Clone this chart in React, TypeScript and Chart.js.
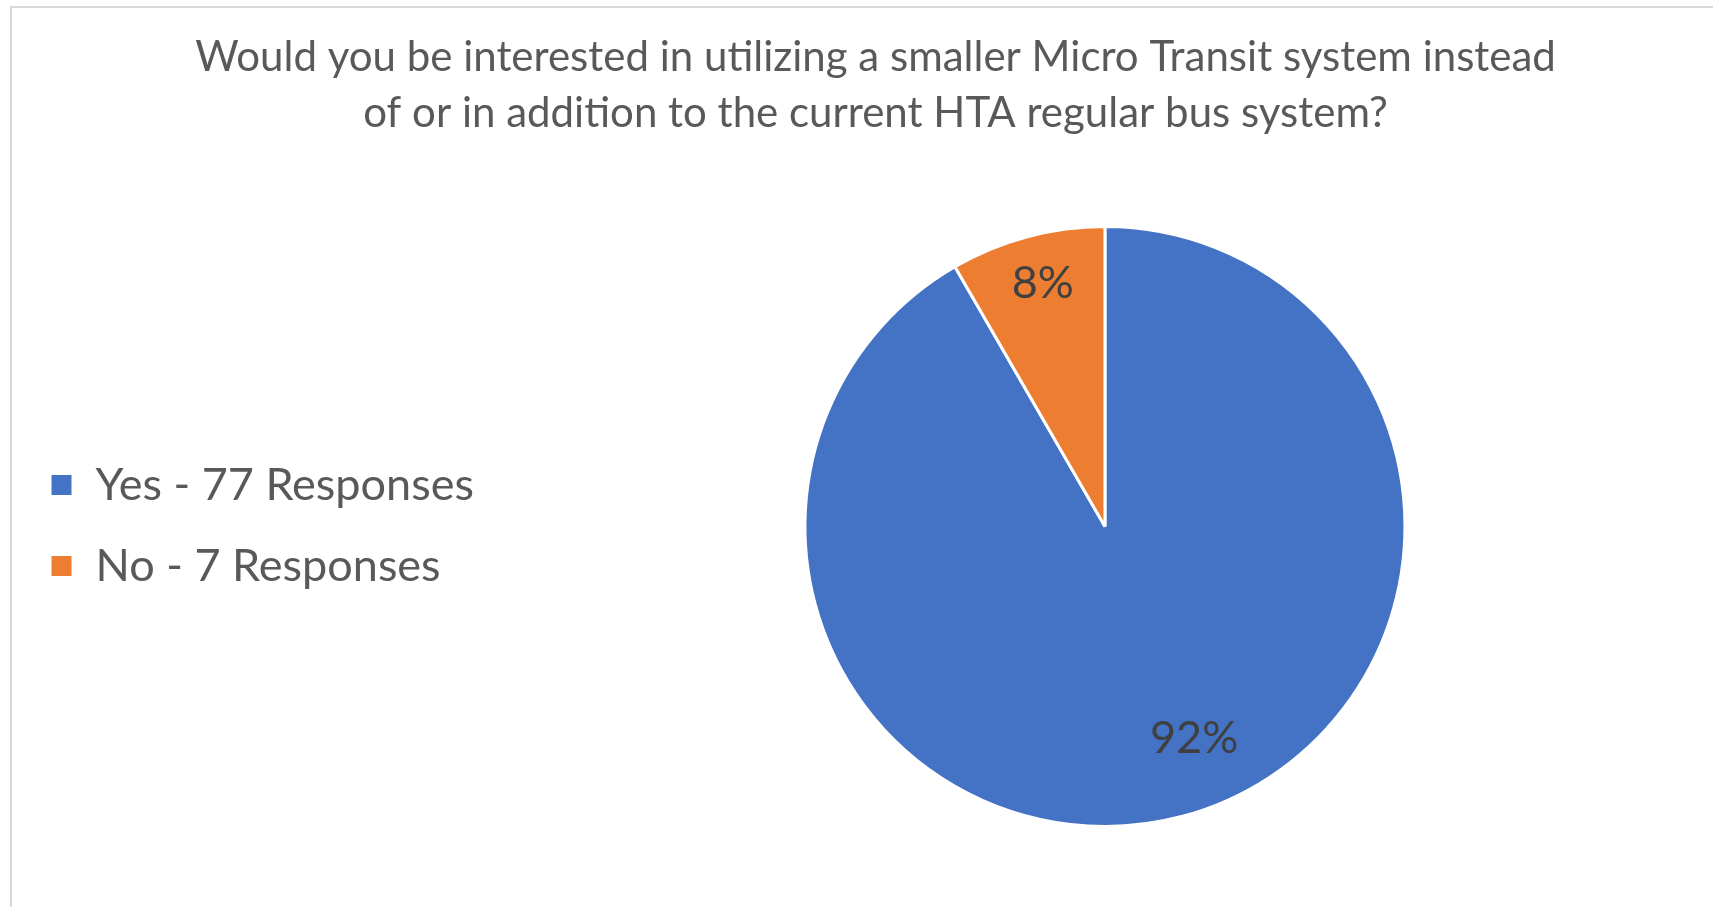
import React, { useEffect, useRef } from "react";
import { Chart, registerables } from "chart.js";

Chart.register(...registerables);

const titleLines = [
  "Would you be interested in utilizing a smaller Micro Transit system instead",
  "of or in addition to the current HTA regular bus system?",
];
const categories = ["Yes - 77 Responses", "No - 7 Responses"];
const responses = [77, 7];
const sliceColors = ["#4472C4", "#ED7D31"];

const FONT = "Lato, 'Open Sans', sans-serif";

const framePlugin = {
  id: "frame",
  afterLayout(chart: any) {
    // nudge the plot area so the pie sits where the reference has it
    chart.chartArea.left += 13;
    chart.chartArea.width -= 13;
  },
  beforeDraw(chart: any) {
    const ctx = chart.ctx;
    ctx.save();
    ctx.fillStyle = "#ffffff";
    ctx.fillRect(0, 0, chart.width, chart.height);
    ctx.strokeStyle = "#d9d9d9";
    ctx.lineWidth = 2;
    ctx.strokeRect(11, 7, chart.width + 20, chart.height + 20);
    ctx.restore();
  },
};

const labelPlugin = {
  id: "sliceLabels",
  afterDatasetsDraw(chart: any) {
    const ctx = chart.ctx;
    const meta = chart.getDatasetMeta(0);
    const data = chart.data.datasets[0].data as number[];
    const total = data.reduce((a, b) => a + b, 0);
    const offsets = [
      { dx: 27, dy: -20 },
      { dx: 0, dy: -11 },
    ];
    ctx.save();
    ctx.font = `45px ${FONT}`;
    ctx.fillStyle = "#404040";
    ctx.textAlign = "center";
    ctx.textBaseline = "middle";
    meta.data.forEach((arc: any, i: number) => {
      const { x, y, startAngle, endAngle, outerRadius } = arc.getProps(
        ["x", "y", "startAngle", "endAngle", "outerRadius"],
        true
      );
      const mid = (startAngle + endAngle) / 2;
      const r = outerRadius * 0.8;
      const pct = Math.round((data[i] / total) * 100) + "%";
      ctx.fillText(
        pct,
        x + Math.cos(mid) * r + offsets[i].dx,
        y + Math.sin(mid) * r + offsets[i].dy
      );
    });
    ctx.restore();
  },
};

export default function App() {
  const canvasRef = useRef<HTMLCanvasElement | null>(null);

  useEffect(() => {
    document.body.style.margin = "0";
    document.body.style.overflow = "hidden";
    const chart = new Chart(canvasRef.current as HTMLCanvasElement, {
      type: "pie",
      data: {
        labels: categories,
        datasets: [
          {
            data: responses,
            backgroundColor: sliceColors,
            borderColor: "#ffffff",
            borderWidth: 3,
          },
        ],
      },
      options: {
        animation: false,
        responsive: false,
        maintainAspectRatio: false,
        layout: { padding: { top: 0, left: 14, right: -24, bottom: 79 } },
        plugins: {
          title: {
            display: true,
            text: titleLines,
            color: "#595959",
            font: { family: FONT, size: 42, weight: "normal", lineHeight: 56 / 42 },
            padding: { top: 29, bottom: 84 },
          },
          legend: {
            display: true,
            position: "left",
            title: {
              display: true,
              text: " ",
              font: { family: FONT, size: 12, lineHeight: 1.2 },
              padding: { top: 104.3, bottom: 104.3 },
            },
            labels: {
              boxWidth: 23,
              boxHeight: 23,
              padding: 36,
              color: "#595959",
              font: { family: FONT, size: 45 },
            },
          },
          tooltip: { enabled: false },
        },
      },
      plugins: [framePlugin, labelPlugin],
    });
    return () => chart.destroy();
  }, []);

  return (
    <div style={{ position: "absolute", left: 0, top: 0, width: 1713, height: 907 }}>
      <canvas ref={canvasRef} width={1713} height={907} />
    </div>
  );
}
